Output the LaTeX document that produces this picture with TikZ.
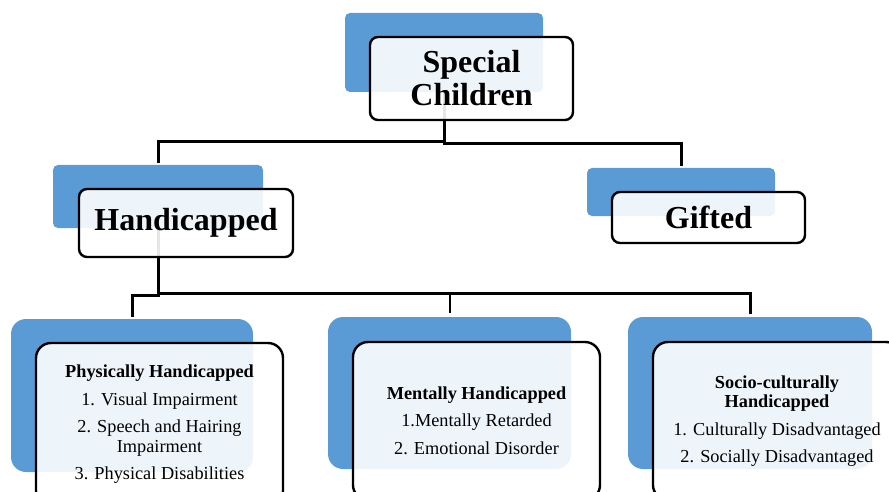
\documentclass[tikz,border=0pt]{standalone}
\usepackage{fontspec}
\setmainfont{Liberation Serif}
\definecolor{backblue}{HTML}{5B9BD5}
\begin{document}
\begin{tikzpicture}[x=1pt,y=-1pt,
  backbox/.style={rectangle, rounded corners=#1, fill=backblue, draw=none, inner sep=0pt},
  frontbox/.style={rectangle, rounded corners=#1, fill=white, fill opacity=0.9, text opacity=1,
    draw=black, draw opacity=1, line width=2.4pt, align=center, inner sep=0pt},
  bigtext/.style={font=\fontsize{32}{33}\selectfont\bfseries},
  smalltext/.style={font=\fontsize{18.3}{19.5}\selectfont},
  conn/.style={line width=3pt, line cap=rect, line join=miter},
  thinconn/.style={line width=2pt}]
\useasboundingbox (0,0) rectangle (889,492);
\begin{scope}
\clip (0,0) rectangle (889,492);
% back boxes
\node[backbox=5pt, minimum width=198pt, minimum height=79pt] (scb) at (444,52.5) {};
\node[backbox=5pt, minimum width=210pt, minimum height=63pt] (hb) at (158,196.5) {};
\node[backbox=5pt, minimum width=188pt, minimum height=48pt] (gb) at (681,192) {};
\node[backbox=15pt, minimum width=242pt, minimum height=153pt] (pb) at (132,395.5) {};
\node[backbox=15pt, minimum width=243pt, minimum height=152pt] (mb) at (449.5,393) {};
\node[backbox=15pt, minimum width=244pt, minimum height=152pt] (sb) at (750,393) {};
% junction coordinates
\coordinate (j1) at (444,142);
\coordinate (j2) at (444,144);
\coordinate (j3) at (158,293);
\coordinate (j4) at (158,295);
% connectors
\draw[conn, shorten >=3pt] (scb.south) -- (j1) -| (hb.north);
\draw[conn, shorten >=3pt] (scb.south) -- (j2) -| (gb.north);
\draw[conn, shorten >=4pt] (hb.south) -- (j3) -| (sb.north);
\draw[conn, shorten >=3pt] (j4) -| (pb.north);
\draw[thinconn, shorten >=4pt] (mb.north |- j3) -- (mb.north);
% front boxes
\node[frontbox=8pt, minimum width=203pt, minimum height=83pt, bigtext] (sc) at (471.5,78.5) {Special\\Children};
\node[frontbox=8pt, minimum width=214pt, minimum height=68pt, bigtext] (h) at (186,223) {Handicapped};
\node[frontbox=8pt, minimum width=193pt, minimum height=51pt, bigtext] (g) at (708.5,217.5) {Gifted};
\node[frontbox=15pt, minimum width=247pt, minimum height=163pt, smalltext] (p) at (159.5,424.5)
  {\textbf{Physically Handicapped}\\[8pt]1. Visual Impairment\\[8pt]2. Speech and Hairing\\Impairment\\[8pt]3. Physical Disabilities};
\node[frontbox=15pt, minimum width=247pt, minimum height=158pt, smalltext] (m) at (476.5,421)
  {\textbf{Mentally Handicapped}\\[7pt]1.Mentally Retarded\\[9pt]2. Emotional Disorder};
\node[frontbox=15pt, minimum width=248pt, minimum height=158pt, smalltext] (s) at (777,421)
  {\textbf{Socio-culturally}\\\textbf{Handicapped}\\[8pt]1. Culturally Disadvantaged\\[8pt]2. Socially Disadvantaged};
\end{scope}
\end{tikzpicture}
\end{document}
